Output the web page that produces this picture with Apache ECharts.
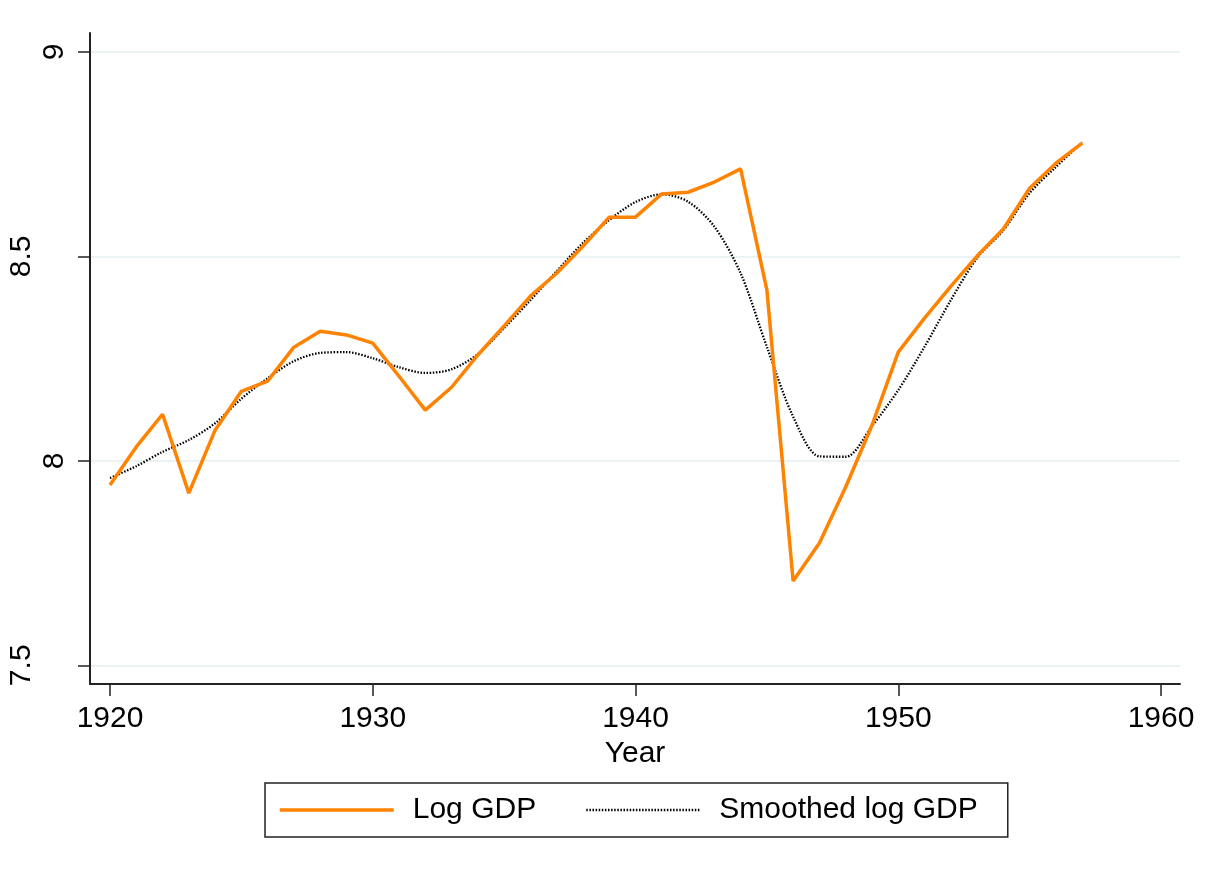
<!DOCTYPE html>
<html>
<head>
<meta charset="utf-8">
<script src="https://cdn.jsdelivr.net/npm/echarts@6/dist/echarts.min.js"></script>
<style>
html,body{margin:0;padding:0;background:#fff;}
#chart{width:1207px;height:877px;}
</style>
</head>
<body>
<div id="chart"></div>
<script>
const years = [1920,1921,1922,1923,1924,1925,1926,1927,1928,1929,1930,1931,1932,1933,1934,1935,1936,1937,1938,1939,1940,1941,1942,1943,1944,1945,1946,1947,1948,1949,1950,1951,1952,1953,1954,1955,1956,1957];
const logGDP = [7.941,8.034,8.114,7.921,8.075,8.170,8.195,8.278,8.317,8.308,8.288,8.207,8.124,8.180,8.259,8.330,8.403,8.459,8.525,8.596,8.596,8.653,8.657,8.682,8.714,8.418,7.706,7.799,7.936,8.087,8.266,8.349,8.427,8.501,8.567,8.667,8.728,8.777];
const smoothedLogGDP = [7.958,7.987,8.022,8.051,8.092,8.152,8.202,8.244,8.264,8.266,8.251,8.229,8.215,8.224,8.261,8.325,8.393,8.464,8.533,8.589,8.633,8.652,8.634,8.573,8.459,8.279,8.108,8.011,8.010,8.085,8.173,8.279,8.393,8.496,8.564,8.655,8.719,8.779];
const xTicks = [1920,1930,1940,1950,1960];
const yTicks = [7.5,8,8.5,9];
const seriesNames = ['Log GDP','Smoothed log GDP'];

const chart = echarts.init(document.getElementById('chart'), null, {renderer:'canvas'});
const font = 'Liberation Sans, Arial, Helvetica, sans-serif';
const axisColor = '#222222';
chart.setOption({
  backgroundColor:'#ffffff',
  animation:false,
  grid:{left:90,right:27,top:33,bottom:193,containLabel:false},
  legend:{
    data:seriesNames,
    left:265, top:783,
    orient:'horizontal',
    itemWidth:114, itemHeight:14, itemGap:49,
    padding:[12,30,12,13],
    borderColor:'#222', borderWidth:1.5, borderRadius:0,
    itemStyle:{opacity:0},
    lineStyle:{opacity:1,width:'inherit'},
    textStyle:{fontFamily:font,fontSize:30,color:'#000',padding:[0,0,0,14]}
  },
  xAxis:{
    type:'value', min:1919.239, max:1960.723,
    name:'Year', nameLocation:'middle', nameGap:52,
    nameTextStyle:{fontFamily:font,fontSize:30,color:'#000'},
    axisLine:{show:true,onZero:false,lineStyle:{color:axisColor,width:2}},
    axisTick:{show:true,length:12,customValues:xTicks,lineStyle:{color:axisColor,width:1.5}},
    axisLabel:{customValues:xTicks,margin:20,fontFamily:font,fontSize:30,color:'#000',
      formatter:function(v){return String(v);}},
    splitLine:{show:false}
  },
  yAxis:{
    type:'value', min:7.4542, max:9.0465,
    axisLine:{show:true,onZero:false,lineStyle:{color:axisColor,width:2}},
    axisTick:{show:true,length:12,customValues:yTicks,lineStyle:{color:axisColor,width:1.5}},
    axisLabel:{
      customValues:yTicks, rotate:90, margin:20,
      fontFamily:font,fontSize:30,color:'#000',
      formatter:function(v){
        const s = String(v);
        return (v===8.5||v===7.5) ? '{b|'+s+'}' : '{a|'+s+'}';
      },
      rich:{
        a:{fontFamily:font,fontSize:30,color:'#000'},
        b:{fontFamily:font,fontSize:30,color:'#000',padding:[0,0,33,0]}
      }
    },
    splitLine:{show:true,lineStyle:{color:'#eaf2f3',width:2}}
  },
  series:[
    {
      name:seriesNames[0], type:'line', symbol:'none',
      data:years.map((y,i)=>[y,logGDP[i]]),
      lineStyle:{color:'#ff8200',width:3.5},
      itemStyle:{color:'#ff8200'},
      z:3
    },
    {
      name:seriesNames[1], type:'line', symbol:'none', smooth:0.3,
      data:years.map((y,i)=>[y,smoothedLogGDP[i]]),
      lineStyle:{color:'#000',width:2.3,type:[1.5,1.6]},
      itemStyle:{color:'#000'},
      z:2
    }
  ]
});
</script>
</body>
</html>
